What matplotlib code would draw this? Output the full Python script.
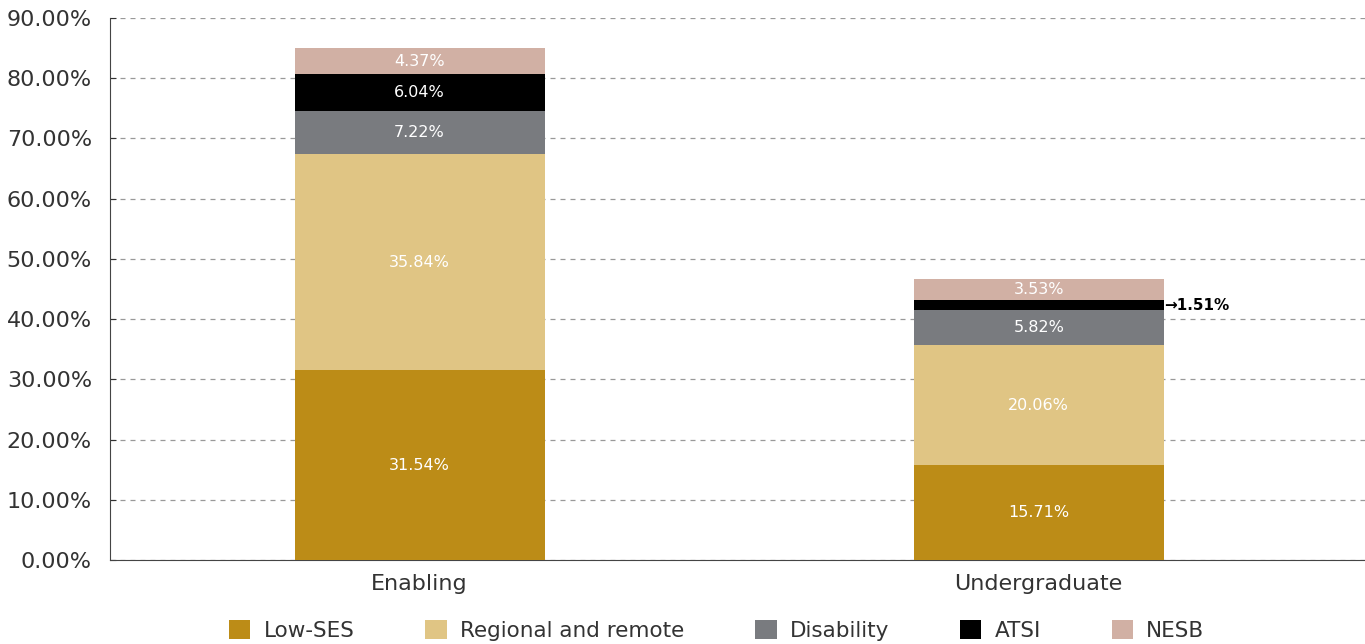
import numpy as np
import matplotlib.pyplot as plt
from matplotlib.patches import Patch

categories = ["Enabling", "Undergraduate"]
groups = ["Low-SES", "Regional and remote", "Disability", "ATSI", "NESB"]
low_ses = [31.54, 15.71]
regional = [35.84, 20.06]
disability = [7.22, 5.82]
atsi = [6.04, 1.51]
nesb = [4.37, 3.53]
colors = ["#BC8C17", "#E0C584", "#797B7F", "#000000", "#D1B0A4"]

series = [low_ses, regional, disability, atsi, nesb]

plt.rcParams['font.family'] = ['DejaVu Sans']

fig = plt.figure(figsize=(13.65, 6.44), dpi=100)
ax = fig.add_axes([0.0806, 0.1304, 0.9194, 0.8416])

x = np.arange(len(categories))
width = 0.404
bottom = np.zeros(len(categories))
for vals, col, name in zip(series, colors, groups):
    ax.bar(x, vals, width, bottom=bottom, color=col, label=name, zorder=3)
    for i, v in enumerate(vals):
        mid = bottom[i] + v / 2
        if v < 2:
            # tiny segment: label outside the bar with an arrow
            ax.text(x[i] + width / 2, mid, "\u2192" + f"{v:.2f}%", ha="left", va="center",
                    fontsize=11, fontweight="bold", color="black", zorder=4)
        else:
            ax.text(x[i], mid, f"{v:.2f}%", ha="center", va="center",
                    fontsize=11.5, color="white", zorder=4)
    bottom += np.array(vals)

ax.set_xlim(-0.5, 1.527)
ax.set_ylim(0, 90)
ax.set_yticks(np.arange(0, 91, 10))
ax.set_yticklabels([f"{t:.2f}%" for t in np.arange(0, 91, 10)])
ax.set_xticks(x)
ax.set_xticklabels(categories)
ax.tick_params(axis="y", labelsize=16, colors="#333333", direction="in", length=4, pad=13)
ax.tick_params(axis="x", labelsize=16, colors="#333333", length=0, pad=10)
ax.yaxis.grid(True, linestyle=(0, (4, 4)), color="#999999", linewidth=0.9, zorder=0)
ax.set_axisbelow(True)
for s in ["top", "right"]:
    ax.spines[s].set_visible(False)
ax.spines["left"].set_color("#444444")
ax.spines["bottom"].set_color("#444444")

handles = [Patch(facecolor=c, edgecolor="none") for c in colors]
fig.legend(handles, groups, loc="lower center", ncol=5, frameon=False,
           fontsize=15.5, bbox_to_anchor=(0.525, -0.025), columnspacing=3.3,
           handlelength=1.0, handleheight=1.0, handletextpad=0.6,
           labelcolor="#333333")

fig.savefig("out.png", dpi=100)
